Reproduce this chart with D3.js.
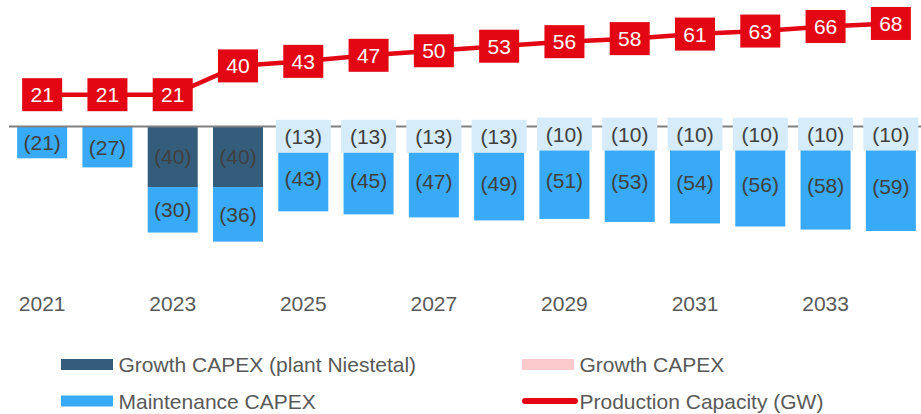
<!DOCTYPE html>
<html>
<head>
<meta charset="utf-8">
<script src="https://cdn.jsdelivr.net/npm/d3@7/dist/d3.min.js"></script>
<style>
  html, body { margin: 0; padding: 0; background: #fff; }
  svg { display: block; font-family: "Liberation Sans", Arial, sans-serif; }
</style>
</head>
<body>
<svg id="chart" width="921" height="414"></svg>
<script>
// Years on the category axis
const years = [2021, 2022, 2023, 2024, 2025, 2026, 2027, 2028, 2029, 2030, 2031, 2032, 2033, 2034];
// Only every second year carries a tick label
const tickYears = [2021, 2023, 2025, 2027, 2029, 2031, 2033];

// CAPEX (shown as outflows, drawn below zero)
const growthPlant = [0, 0, 40, 40, 0, 0, 0, 0, 0, 0, 0, 0, 0, 0];
const growthCapex = [0, 0, 0, 0, 13, 13, 13, 13, 10, 10, 10, 10, 10, 10];
const maintenanceCapex = [21, 27, 30, 36, 43, 45, 47, 49, 51, 53, 54, 56, 58, 59];

// Production capacity in GW
const capacity = [21, 21, 21, 40, 43, 47, 50, 53, 56, 58, 61, 63, 66, 68];

const colors = {
  plant: "#345d7c",
  growth: "#fccacd",
  growthLabel: "#d6ecfb",
  maintenance: "#38aaf8",
  line: "#e30613",
  axis: "#808080",
  label: "#404040",
  text: "#595959"
};

const svg = d3.select("#chart");
const fontSize = 21;

const x = d3.scaleBand()
  .domain(years)
  .range([9.5, 923.5])
  .paddingInner(0.234)
  .paddingOuter(0.117);

// Shared value axis for bars and the capacity line
const y = d3.scaleLinear().domain([-80, 80]).range([247.7, 5.3]);

const cx = d => x(d) + x.bandwidth() / 2;

// Stacked segments, going downward from zero
const segments = [];
years.forEach((yr, i) => {
  let base = 0;
  if (growthPlant[i] > 0) {
    segments.push({ year: yr, key: "plant", v: growthPlant[i], y0: base, y1: base - growthPlant[i] });
    base -= growthPlant[i];
  }
  if (growthCapex[i] > 0) {
    segments.push({ year: yr, key: "growth", v: growthCapex[i], y0: base, y1: base - growthCapex[i] });
    base -= growthCapex[i];
  }
  segments.push({ year: yr, key: "maintenance", v: maintenanceCapex[i], y0: base, y1: base - maintenanceCapex[i] });
});

const barG = svg.append("g");
barG.selectAll("rect")
  .data(segments)
  .join("rect")
  .attr("x", d => x(d.year))
  .attr("width", x.bandwidth())
  .attr("y", d => y(d.y0))
  .attr("height", d => y(d.y1) - y(d.y0))
  .attr("fill", d => colors[d.key]);

// Zero line
svg.append("line")
  .attr("x1", 9).attr("x2", 921)
  .attr("y1", y(0)).attr("y2", y(0))
  .attr("stroke", colors.axis)
  .attr("stroke-width", 1.8);

// Segment value labels
const labelG = svg.append("g")
  .attr("font-size", fontSize)
  .attr("fill", colors.label)
  .attr("text-anchor", "middle");

const growthSegs = segments.filter(d => d.key === "growth");
labelG.selectAll("rect.glab")
  .data(growthSegs)
  .join("rect")
  .attr("class", "glab")
  .attr("x", d => cx(d.year) - 27.5)
  .attr("width", 55)
  .attr("y", d => y((d.y0 + d.y1) / 2) - 16.5)
  .attr("height", 33)
  .attr("fill", colors.growthLabel);

labelG.selectAll("text")
  .data(segments)
  .join("text")
  .attr("x", d => cx(d.year))
  .attr("y", d => y((d.y0 + d.y1) / 2))
  .attr("dy", "0.36em")
  .text(d => `(${d.v})`);

// Capacity line
const line = d3.line()
  .x((d, i) => cx(years[i]))
  .y(d => y(d));

svg.append("path")
  .datum(capacity)
  .attr("d", line)
  .attr("fill", "none")
  .attr("stroke", colors.line)
  .attr("stroke-width", 4.5);

const capG = svg.append("g");
const capPts = capG.selectAll("g")
  .data(capacity)
  .join("g")
  .attr("transform", (d, i) => `translate(${cx(years[i])},${y(d)})`);
capPts.append("rect")
  .attr("x", -20).attr("y", -16.5)
  .attr("width", 40).attr("height", 33)
  .attr("fill", colors.line);
capPts.append("text")
  .attr("text-anchor", "middle")
  .attr("dy", "0.36em")
  .attr("font-size", fontSize)
  .attr("fill", "#ffffff")
  .text(d => d);

// Category axis labels
const xAxis = d3.axisBottom(x)
  .tickValues(tickYears)
  .tickSize(0)
  .tickPadding(0)
  .tickFormat(d3.format("d"));
const axG = svg.append("g")
  .attr("transform", "translate(0,296)")
  .call(xAxis);
axG.select(".domain").remove();
axG.selectAll("text")
  .attr("font-size", fontSize)
  .attr("font-family", "Liberation Sans, Arial, sans-serif")
  .attr("fill", colors.text);

// Legend
const legendItems = [
  { label: "Growth CAPEX (plant Niestetal)", color: colors.plant, type: "bar", x: 61, y: 364.5 },
  { label: "Growth CAPEX", color: colors.growth, type: "bar", x: 522, y: 364.5 },
  { label: "Maintenance CAPEX", color: colors.maintenance, type: "bar", x: 61, y: 401 },
  { label: "Production Capacity (GW)", color: colors.line, type: "line", x: 522, y: 401 }
];
const lg = svg.append("g").selectAll("g")
  .data(legendItems)
  .join("g")
  .attr("transform", d => `translate(${d.x},${d.y})`);
lg.filter(d => d.type === "bar").append("rect")
  .attr("x", 0).attr("y", -5.5)
  .attr("width", 52).attr("height", 11)
  .attr("fill", d => d.color);
lg.filter(d => d.type === "line").append("line")
  .attr("x1", 3).attr("x2", 53)
  .attr("y1", 0).attr("y2", 0)
  .attr("stroke", d => d.color)
  .attr("stroke-width", 6)
  .attr("stroke-linecap", "round");
lg.append("text")
  .attr("x", 57.5)
  .attr("dy", "0.36em")
  .attr("font-size", fontSize)
  .attr("fill", colors.text)
  .text(d => d.label);
</script>
</body>
</html>
